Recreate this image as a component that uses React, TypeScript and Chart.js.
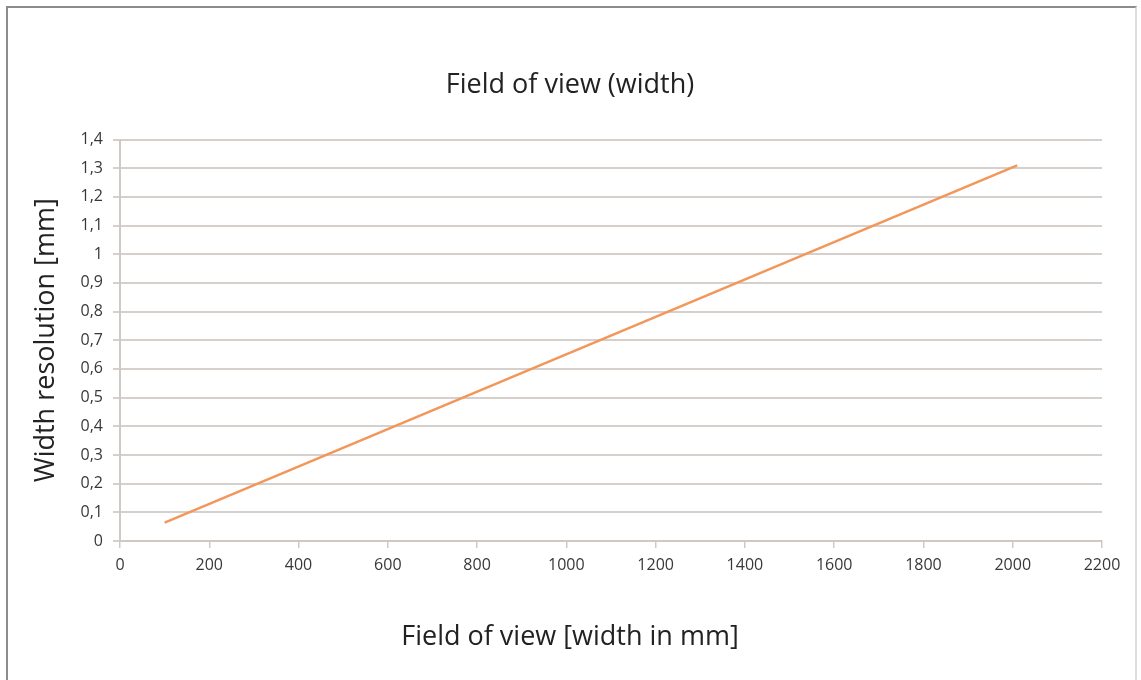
import React, { useEffect, useRef } from "react";
import { Chart, registerables } from "chart.js";

Chart.register(...registerables);

const fieldOfViewMm = [100, 2010];
const widthResolutionMm = [0.064, 1.31];
const chartTitle = "Field of view (width)";
const xAxisTitle = "Field of view [width in mm]";
const yAxisTitle = "Width resolution [mm]";

const FONT = "'Open Sans', 'Noto Sans', sans-serif";

export default function App() {
  const ref = useRef<HTMLCanvasElement | null>(null);

  useEffect(() => {
    document.body.style.margin = "0";
    const canvas = ref.current;
    if (!canvas) return;
    const chart = new Chart(canvas, {
      type: "line",
      data: {
        datasets: [
          {
            data: fieldOfViewMm.map((x, i) => ({ x, y: widthResolutionMm[i] })),
            borderColor: "#f2965a",
            borderWidth: 2.5,
            pointRadius: 0,
            fill: false,
            tension: 0,
          },
        ],
      },
      options: {
        animation: false,
        responsive: false,
        layout: { padding: { left: 38, right: 39, top: 0, bottom: 0 } },
        plugins: {
          legend: { display: false },
          tooltip: { enabled: false },
          title: {
            display: true,
            text: chartTitle,
            color: "#222",
            font: { family: FONT, size: 27, weight: "normal", lineHeight: 1.2 },
            padding: { top: 68.8, bottom: 38.3 },
          },
          subtitle: {
            display: true,
            position: "bottom",
            text: xAxisTitle,
            color: "#222",
            font: { family: FONT, size: 27, weight: "normal", lineHeight: 1.2 },
            padding: { top: 29.8, bottom: 26.8 },
          },
        },
        scales: {
          x: {
            type: "linear",
            min: 0,
            max: 2200,
            ticks: {
              stepSize: 200,
              color: "#383838",
              padding: 8,
              maxRotation: 0,
              font: { family: FONT, size: 16 },
              callback: (v: any) => String(v),
            },
            grid: {
              drawOnChartArea: false,
              drawTicks: true,
              tickLength: 7,
              color: "#cfc9c5",
              lineWidth: 1.5,
            },
            border: { display: true, color: "#cfc9c5", width: 2 },
            afterFit: (scale: any) => {
              scale.height = 50;
            },
          },
          y: {
            min: 0,
            max: 1.4,
            ticks: {
              stepSize: 0.1,
              color: "#383838",
              padding: 10,
              font: { family: FONT, size: 16 },
              callback: (v: any) => String(Math.round(Number(v) * 10) / 10).replace(".", ","),
            },
            grid: {
              drawTicks: true,
              tickLength: 7,
              color: "#d6d0cc",
              lineWidth: 2,
            },
            border: { display: true, color: "#cfc9c5", width: 2 },
            title: {
              display: true,
              text: yAxisTitle,
              color: "#222",
              font: { family: FONT, size: 27, lineHeight: 1.2 },
              padding: { top: -8, bottom: 0 },
            },
            afterFit: (scale: any) => {
              scale.width = 82;
            },
          },
        },
      },
    });
    return () => chart.destroy();
  }, []);

  return (
    <div style={{ position: "fixed", left: 0, top: 0, width: 1141, height: 680, background: "#fff", overflow: "hidden" }}>
      <div
        style={{
          position: "absolute",
          left: 6,
          top: 6,
          width: 1131,
          height: 700,
          borderLeft: "2px solid #8c8c8c",
          borderTop: "2px solid #8c8c8c",
          borderRight: "2px solid #dcdcdc",
          boxSizing: "border-box",
        }}
      />
      <canvas ref={ref} width={1141} height={680} style={{ position: "absolute", left: 0, top: 0 }} />
    </div>
  );
}
